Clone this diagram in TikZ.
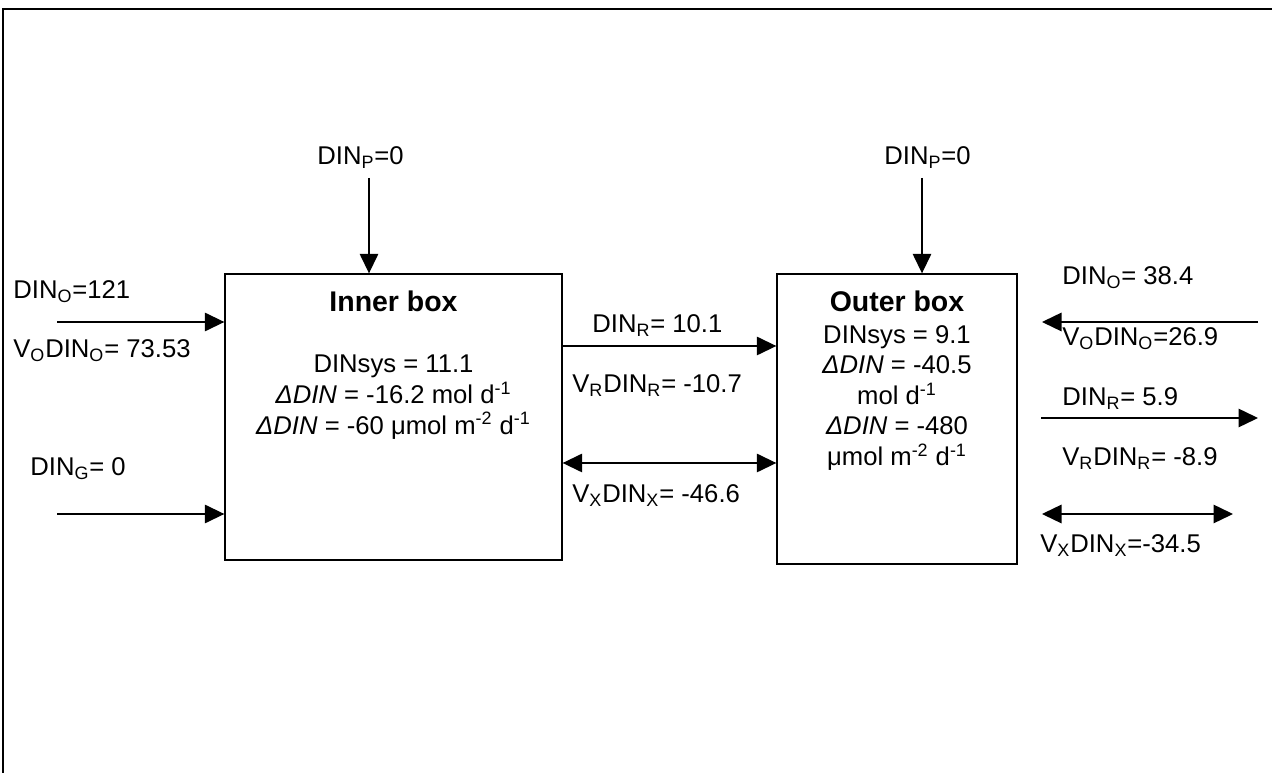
\documentclass[tikz,border=0pt]{standalone}
\usepackage{fontspec}
\setmainfont{Liberation Sans}
\usetikzlibrary{arrows.meta}

\begin{document}
\begin{tikzpicture}[x=0.02cm, y=-0.02cm,
    lbl/.style={anchor=base west, inner sep=0pt, font=\fontsize{14.6}{17.4}\selectfont},
    boxtext/.style={align=center, anchor=north, inner sep=0pt, font=\fontsize{14.6}{17.4}\selectfont},
    boxtitle/.style={anchor=base, inner sep=0pt, font=\fontsize{16.2}{19}\selectfont\bfseries},
    compartment/.style={draw, line width=0.8pt, inner sep=0pt},
    flow/.style={line width=0.8pt, -{Triangle[length=0.39cm, width=0.37cm]}},
    twoway/.style={line width=0.8pt, {Triangle[length=0.39cm, width=0.37cm]}-{Triangle[length=0.39cm, width=0.37cm]}}]
    \useasboundingbox (0,0) rectangle (1272,773);

    % Frame
    \draw[line width=1.4pt] (3,773) -- (3,9) -- (1272,9);

    % Inner box
    \node[compartment, minimum width=6.74cm, minimum height=5.72cm] (inner) at (393.5,417) {};
    \node[boxtitle] (innertitle) at (393.5,312) {Inner box};
    \node[boxtext] (innertext) at (393.5,355) {DINsys = 11.1\\
        \textit{ΔDIN} = -16.2 mol d\textsuperscript{-1}\\
        \textit{ΔDIN} = -60 μmol m\textsuperscript{-2} d\textsuperscript{-1}};

    % Outer box
    \node[compartment, minimum width=4.8cm, minimum height=5.8cm] (outer) at (897,419) {};
    \node[boxtitle] (outertitle) at (897,312) {Outer box};
    \node[boxtext] (outertext) at (897,325) {DINsys = 9.1\\
        \textit{ΔDIN} = -40.5\\
        mol d\textsuperscript{-1}\\
        \textit{ΔDIN} = -480\\
        μmol m\textsuperscript{-2} d\textsuperscript{-1}};

    % Precipitation
    \node[lbl] (pinner) at (317,165) {DIN\textsubscript{P}=0};
    \coordinate (pinnertop) at (369,178);
    \draw[flow] (pinnertop) -- (pinnertop |- inner.north);
    \node[lbl] (pouter) at (884,165) {DIN\textsubscript{P}=0};
    \coordinate (poutertop) at (922,178);
    \draw[flow] (poutertop) -- (poutertop |- outer.north);

    % Inputs to the inner box
    \node[lbl] (oinlbl) at (13,299) {DIN\textsubscript{O}=121};
    \node[lbl] (voinlbl) at (13,358) {V\textsubscript{O}DIN\textsubscript{O}= 73.53};
    \coordinate (oin) at (57,322);
    \draw[flow] (oin) -- (oin -| inner.west);
    \node[lbl] (ginlbl) at (30,476) {DIN\textsubscript{G}= 0};
    \coordinate (gin) at (57,514);
    \draw[flow] (gin) -- (gin -| inner.west);

    % Exchange between the boxes
    \node[lbl] (rmidlbl) at (592,333) {DIN\textsubscript{R}= 10.1};
    \node[lbl] (vrmidlbl) at (572,393) {V\textsubscript{R}DIN\textsubscript{R}= -10.7};
    \coordinate (rmid) at (562,346);
    \draw[flow] (rmid -| inner.east) -- (rmid -| outer.west);
    \node[lbl] (xmidlbl) at (572,503) {V\textsubscript{X}DIN\textsubscript{X}= -46.6};
    \coordinate (xmid) at (562,463);
    \draw[twoway] (xmid -| inner.east) -- (xmid -| outer.west);

    % Outer side
    \node[lbl] (ooutlbl) at (1062,285) {DIN\textsubscript{O}= 38.4};
    \coordinate (oright) at (1258,322);
    \coordinate (oleft) at (1042,322);
    \draw[flow] (oright) -- (oleft);
    \node[lbl] (vooutlbl) at (1062,346) {V\textsubscript{O}DIN\textsubscript{O}=26.9};
    \node[lbl] (routlbl) at (1062,406) {DIN\textsubscript{R}= 5.9};
    \coordinate (rleft) at (1041,418);
    \coordinate (rright) at (1258,418);
    \draw[flow] (rleft) -- (rright);
    \node[lbl] (vroutlbl) at (1062,466) {V\textsubscript{R}DIN\textsubscript{R}= -8.9};
    \coordinate (xleft) at (1042,514);
    \coordinate (xright) at (1233,514);
    \draw[twoway] (xleft) -- (xright);
    \node[lbl] (xoutlbl) at (1040,553) {V\textsubscript{X}DIN\textsubscript{X}=-34.5};
\end{tikzpicture}
\end{document}
